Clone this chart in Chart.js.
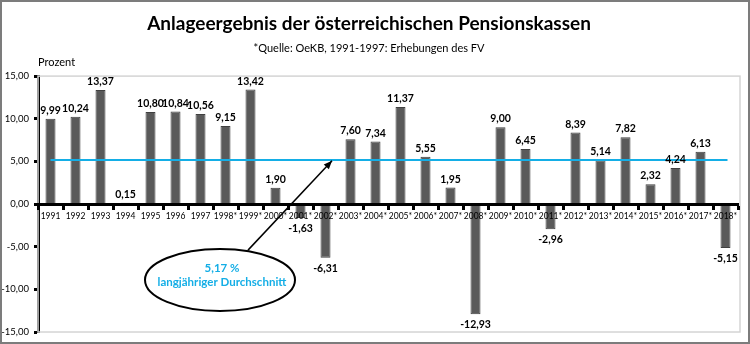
<!DOCTYPE html>
<html lang="de">
<head>
<meta charset="UTF-8">
<title>Anlageergebnis der österreichischen Pensionskassen</title>
<script src="https://cdn.jsdelivr.net/npm/chart.js"></script>
<style>
  html, body { margin: 0; padding: 0; background: #fff; }
  #wrap { width: 750px; height: 344px; }
</style>
</head>
<body>
<div id="wrap"><canvas id="chart" width="750" height="344"></canvas></div>
<script>
// Daten
const years = ['1991', '1992', '1993', '1994', '1995', '1996', '1997', '1998*', '1999*', '2000*',
  '2001*', '2002*', '2003*', '2004*', '2005*', '2006*', '2007*', '2008*', '2009*', '2010*',
  '2011*', '2012*', '2013*', '2014*', '2015*', '2016*', '2017*', '2018*'];
const returns = [9.99, 10.24, 13.37, 0.15, 10.80, 10.84, 10.56, 9.15, 13.42, 1.90,
  -1.63, -6.31, 7.60, 7.34, 11.37, 5.55, 1.95, -12.93, 9.00, 6.45,
  -2.96, 8.39, 5.14, 7.82, 2.32, 4.24, 6.13, -5.15];
const average = 5.17;
const yMin = -15, yMax = 15, yStep = 5;

const FONT = 'Lato, "Open Sans", sans-serif';
const CYAN = '#14aee6';
const de = v => v.toFixed(2).replace('.', ',');

const decor = {
    id: 'decor',
    beforeDraw(chart) {
        const c = chart.ctx;
        c.save();
        c.fillStyle = '#fff';
        c.fillRect(0, 0, chart.width, chart.height);
        c.restore();
    },
    beforeDatasetsDraw(chart) {
        const c = chart.ctx, a = chart.chartArea;
        c.save();
        // heller Rahmen der Zeichenfläche
        c.strokeStyle = '#d4d4d4';
        c.lineWidth = 1.5;
        c.strokeRect(a.left, a.top, a.right - a.left + 2, a.bottom - a.top);
        c.restore();
    },
    afterDatasetsDraw(chart) {
        const c = chart.ctx, a = chart.chartArea;
        const x = chart.scales.x, y = chart.scales.y;
        c.save();

        // Mittelwertlinie
        const ya = y.getPixelForValue(average);
        c.strokeStyle = CYAN;
        c.lineWidth = 2;
        c.beginPath();
        c.moveTo(x.getPixelForValue(0), ya);
        c.lineTo(x.getPixelForValue(returns.length - 1) + 2, ya);
        c.stroke();

        // Werte an den Balken
        c.fillStyle = '#000';
        c.font = 'bold 10.5px ' + FONT;
        c.textAlign = 'center';
        chart.getDatasetMeta(0).data.forEach((bar, i) => {
            const v = returns[i];
            if (v >= 0) {
                c.textBaseline = 'bottom';
                c.fillText(de(v), bar.x, bar.y - 3);
            } else {
                c.textBaseline = 'top';
                c.fillText(de(v), bar.x, bar.y + 5);
            }
        });

        // "Prozent"
        c.font = '11px ' + FONT;
        c.textAlign = 'left';
        c.textBaseline = 'middle';
        c.fillText('Prozent', a.left, 62);

        // Ellipse mit Durchschnitt
        const ex = x.getPixelForValue(6.78), ey = y.getPixelForValue(-8.9);
        c.strokeStyle = '#000';
        c.lineWidth = 2;
        c.beginPath();
        c.ellipse(ex, ey, 75, 31, 0, 0, Math.PI * 2);
        c.stroke();
        c.fillStyle = CYAN;
        c.font = 'bold 11.5px ' + FONT;
        c.textAlign = 'center';
        c.fillText(de(average) + ' %', ex + 2, ey - 12);
        c.fillText('langjähriger Durchschnitt', ex + 2, ey + 2);

        // Pfeil
        const x1 = x.getPixelForValue(7.9), y1 = y.getPixelForValue(-5.4);
        const x2 = x.getPixelForValue(11.26), y2 = y.getPixelForValue(average - 0.1);
        c.strokeStyle = '#000';
        c.lineWidth = 1.5;
        c.beginPath();
        c.moveTo(x1, y1);
        c.lineTo(x2, y2);
        c.stroke();
        const ang = Math.atan2(y2 - y1, x2 - x1);
        c.fillStyle = '#000';
        c.beginPath();
        c.moveTo(x2, y2);
        c.lineTo(x2 - 9 * Math.cos(ang - 0.4), y2 - 9 * Math.sin(ang - 0.4));
        c.lineTo(x2 - 9 * Math.cos(ang + 0.4), y2 - 9 * Math.sin(ang + 0.4));
        c.closePath();
        c.fill();

        // äußerer Rahmen
        c.strokeStyle = '#7c7c7c';
        c.lineWidth = 2;
        c.strokeRect(1, 1, chart.width - 2, chart.height - 2);
        c.restore();
    }
};

const ctx = document.getElementById('chart').getContext('2d');
new Chart(ctx, {
    type: 'bar',
    data: {
        labels: years,
        datasets: [{
            data: returns,
            backgroundColor: '#5a5a5a',
            borderColor: '#404040',
            borderWidth: 1,
            barPercentage: 0.4,
            categoryPercentage: 1
        }]
    },
    options: {
        responsive: false,
        animation: false,
        layout: { padding: { left: 0, right: 12, top: 0, bottom: 12 } },
        plugins: {
            legend: { display: false },
            tooltip: { enabled: false },
            title: {
                display: true,
                text: 'Anlageergebnis der österreichischen Pensionskassen',
                color: '#000',
                font: { family: FONT, size: 19, weight: 'bold', lineHeight: 1.2 },
                padding: { top: 12, bottom: 7 }
            },
            subtitle: {
                display: true,
                text: '*Quelle: OeKB, 1991-1997: Erhebungen des FV',
                color: '#000',
                font: { family: FONT, size: 11, lineHeight: 1.3 },
                padding: { top: 0, bottom: 20 }
            }
        },
        scales: {
            x: {
                position: { y: 0 },
                afterFit: s => { s.height = 0; },
                grid: { drawOnChartArea: false, tickLength: 4, tickWidth: 3, color: '#000', offset: true, z: 1 },
                border: { color: '#000', width: 3, z: 1 },
                ticks: {
                    autoSkip: false, maxRotation: 0, minRotation: 0, padding: 3, z: 1,
                    color: '#000', font: { family: FONT, size: 8.5 }
                }
            },
            y: {
                min: yMin, max: yMax,
                afterFit: s => { s.width = 38; },
                grid: { drawOnChartArea: false, tickLength: 4, tickWidth: 3, color: '#000' },
                border: { color: '#000', width: 3 },
                ticks: {
                    stepSize: yStep, padding: 5, color: '#000',
                    font: { family: FONT, size: 9.5 },
                    callback: v => de(v)
                }
            }
        }
    },
    plugins: [decor]
});
</script>
</body>
</html>
